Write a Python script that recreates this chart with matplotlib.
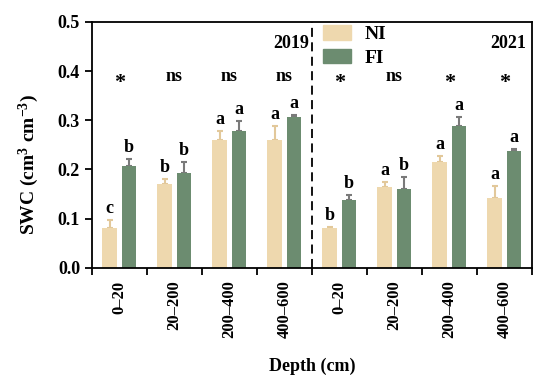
import numpy as np
import matplotlib.pyplot as plt
from matplotlib.patches import Patch

plt.rcParams["font.family"] = "Liberation Serif"
plt.rcParams["font.weight"] = "bold"
plt.rcParams["axes.labelweight"] = "bold"
plt.rcParams["mathtext.fontset"] = "custom"
plt.rcParams["mathtext.rm"] = "Liberation Serif:bold"
plt.rcParams["mathtext.it"] = "Liberation Serif:bold"
plt.rcParams["mathtext.bf"] = "Liberation Serif:bold"

depths = ["0\u201320", "20\u2013200", "200\u2013400", "400\u2013600",
          "0\u201320", "20\u2013200", "200\u2013400", "400\u2013600"]

ni_mean = [0.082, 0.170, 0.259, 0.260, 0.082, 0.164, 0.216, 0.142]
ni_err = [0.016, 0.010, 0.020, 0.029, 0.002, 0.010, 0.012, 0.025]
fi_mean = [0.207, 0.193, 0.278, 0.306, 0.139, 0.160, 0.289, 0.238]
fi_err = [0.014, 0.022, 0.020, 0.005, 0.010, 0.024, 0.018, 0.003]

ni_letters = ["c", "b", "a", "a", "b", "a", "a", "a"]
fi_letters = ["b", "b", "a", "a", "b", "b", "a", "a"]
signif = ["*", "ns", "ns", "ns", "*", "ns", "*", "*"]

ni_color = "#eed8ae"
fi_color = "#6c8c70"

fig = plt.figure(figsize=(5.5, 3.9), dpi=100)
ax = fig.add_axes([0.167, 0.313, 0.80, 0.631])

x = np.arange(len(depths)) + 0.5
w = 0.265
off = 0.178

ax.bar(x - off, ni_mean, w, color=ni_color, zorder=2)
ax.bar(x + off, fi_mean, w, color=fi_color, zorder=2)
ax.errorbar(x - off, ni_mean, yerr=[np.zeros(len(ni_err)), ni_err], fmt="none",
            ecolor="#e2c89a", elinewidth=1.5, capsize=2.5, capthick=1.5, zorder=1)
ax.errorbar(x + off, fi_mean, yerr=[np.zeros(len(fi_err)), fi_err], fmt="none",
            ecolor="#7a7a7a", elinewidth=1.5, capsize=2.5, capthick=1.5, zorder=1)

for i in range(len(depths)):
    ax.text(x[i] - off, ni_mean[i] + ni_err[i] + 0.006, ni_letters[i],
            ha="center", va="bottom", fontsize=13)
    ax.text(x[i] + off, fi_mean[i] + fi_err[i] + 0.006, fi_letters[i],
            ha="center", va="bottom", fontsize=13)
    if signif[i] == "*":
        ax.text(x[i], 0.375, "*", ha="center", va="center", fontsize=16)
    else:
        ax.text(x[i], 0.388, signif[i], ha="center", va="center", fontsize=13)

ax.axvline(4, color="black", linestyle=(0, (5, 3)), linewidth=1.3)
ax.text(3.95, 0.455, "2019", ha="right", va="center", fontsize=13)
ax.text(7.9, 0.455, "2021", ha="right", va="center", fontsize=13)

handles = [Patch(color=ni_color, label="NI"), Patch(color=fi_color, label="FI")]
ax.legend(handles=handles, loc="upper left", bbox_to_anchor=(0.503, 1.025),
          frameon=False, fontsize=14, handlelength=1.45, handleheight=0.75,
          labelspacing=0.3, handletextpad=0.7, borderaxespad=0.1)

ax.set_xlim(0, 8)
ax.set_ylim(0, 0.5)
ax.set_yticks(np.arange(0, 0.51, 0.1))
ax.set_yticklabels([f"{v:.1f}" for v in np.arange(0, 0.51, 0.1)], fontsize=13)
ax.set_xticks(np.arange(0, 9))
ax.set_xticklabels([])
ax.set_xticks(x, minor=True)
ax.set_xticklabels(depths, minor=True, rotation=90, fontsize=12)
ax.tick_params(axis="x", which="minor", length=0, pad=9)
ax.tick_params(axis="both", which="major", length=5, width=1.3, direction="out")
for sp in ax.spines.values():
    sp.set_linewidth(1.3)

ax.set_ylabel("SWC (cm$^{3}$ cm$^{-3}$)", fontsize=14)
ax.yaxis.set_label_coords(-0.115, 0.42)
ax.set_xlabel("Depth (cm)", fontsize=13, labelpad=14)

fig.savefig("out.png", dpi=100)
